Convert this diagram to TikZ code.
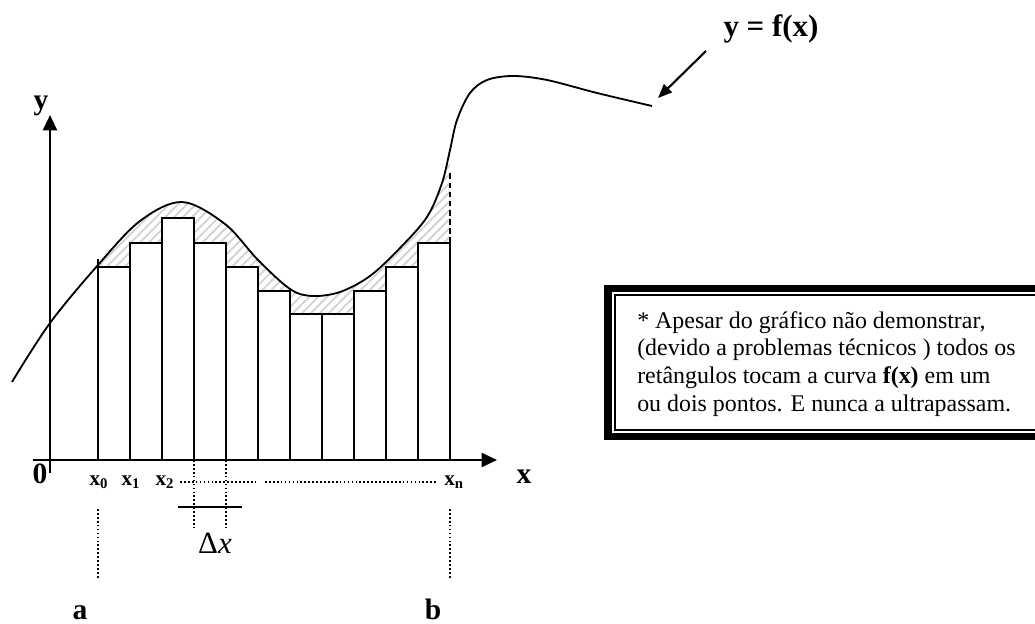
\documentclass[tikz,border=0pt]{standalone}
\usepackage{fontspec}
\setmainfont{Liberation Serif}
\usetikzlibrary{arrows.meta,patterns.meta}

\begin{document}
\begin{tikzpicture}[x=0.025cm, y=-0.025cm,
    axis/.style={line width=1.7pt, -{Triangle[length=11pt,width=10pt]}},
    pointer/.style={line width=1.5pt, -{Triangle[length=10pt,width=8pt]}},
    bar/.style={draw, fill=white, line width=1.3pt},
    curve/.style={line width=1.3pt},
    guide/.style={line width=1.2pt, dash pattern=on 1.2pt off 1.6pt},
    biglabel/.style={font=\fontsize{21}{24}\selectfont\bfseries, inner sep=0pt, anchor=base},
    ticklabel/.style={font=\fontsize{15}{17}\selectfont\bfseries, inner sep=0pt, anchor=base},
    note/.style={font=\fontsize{17}{19.8}\selectfont, align=left, inner sep=0pt, anchor=north west}]
    \useasboundingbox (0,0) rectangle (1035,624);

    % hatched gap between the curve and the rectangles
    \begin{scope}
        \clip (98,0) rectangle (450,460);
        \fill[pattern={Lines[angle=45,distance=4.5pt,line width=1.3pt]}, pattern color=gray!35]
            plot[smooth, tension=0.55] coordinates {(12,382) (50,323) (98,265) (140,221) (182,202) (225,224) (258,260) (290,289) (312,296) (340,292) (370,276) (400,248) (427,217) (442,183) (450,150) (457,120) (470,93) (487,80) (513,76) (547,80) (597,93) (652,106)}
            -- (652,460) -- (12,460) -- cycle;
    \end{scope}

    % rectangles under the curve
    \foreach \h [count=\i from 0] in {267,243,218,243,267,291,314,314,291,267,243}
        \draw[bar] (98+32*\i,460) rectangle (130+32*\i,\h);
    \draw[curve] (98,267) -- (98,259);
    \draw[line width=1.2pt, dash pattern=on 4pt off 2.5pt] (450,243) -- (450,170);

    % the function
    \draw[curve] plot[smooth, tension=0.55] coordinates {(12,382) (50,323) (98,265) (140,221) (182,202) (225,224) (258,260) (290,289) (312,296) (340,292) (370,276) (400,248) (427,217) (442,183) (450,150) (457,120) (470,93) (487,80) (513,76) (547,80) (597,93) (652,106)};

    % axes
    \coordinate (xstart) at (33,460);
    \coordinate (xend) at (497,460);
    \coordinate (ystart) at (50,473);
    \coordinate (yend) at (50,115);
    \draw[axis] (xstart) -- (xend);
    \draw[axis] (ystart) -- (yend);
    \node[biglabel] (ylab) at (41,110) {y};
    \node[biglabel] (xlab) at (524,483) {x};
    \node[biglabel] (origin) at (40,483) {0};

    % partition points
    \node[ticklabel] (x0) at (99,485) {x\textsubscript{0}};
    \node[ticklabel] (x1) at (131,485) {x\textsubscript{1}};
    \node[ticklabel] (x2) at (165,485) {x\textsubscript{2}};
    \node[ticklabel] (xn) at (454,485) {x\textsubscript{n}};
    \draw[guide] (180,482) -- (257,482);
    \draw[guide] (265,482) -- (438,482);

    % width of one rectangle
    \coordinate (d1) at (194,460);
    \coordinate (d2) at (226,460);
    \draw[guide] (d1) -- ++(0,68);
    \draw[guide] (d2) -- ++(0,68);
    \draw[line width=1.3pt] (178,507) -- (242,507);
    \node[font=\fontsize{22}{24}\selectfont, inner sep=0pt, anchor=base] (dx) at (215,553) {Δ\textit{x}};

    % limits of integration
    \draw[guide] (98,509) -- (98,579);
    \draw[guide] (450,509) -- (450,579);
    \node[biglabel] (a) at (80,619) {a};
    \node[biglabel] (b) at (433,619) {b};

    % label of the curve
    \node[biglabel, font=\fontsize{22}{24}\selectfont\bfseries] (fxlab) at (771,37) {y = f(x)};
    \coordinate (fxtail) at (706,51);
    \coordinate (fxtip) at (658,98);
    \draw[pointer] (fxtail) -- (fxtip);

    % remark box, cut by the right border
    \begin{scope}
        \clip (0,0) rectangle (1035,624);
        \draw[line width=5pt] (608,288.5) rectangle (1060,436.5);
        \draw[line width=1.2pt] (615,295) rectangle (1060,430);
    \end{scope}
    \node[note] (remark) at (637,311) {* Apesar do gráfico não demonstrar,\\(devido a problemas técnicos ) todos os\\retângulos tocam a curva \textbf{f(x)} em um\\ou dois pontos. E nunca a ultrapassam.};
\end{tikzpicture}
\end{document}
